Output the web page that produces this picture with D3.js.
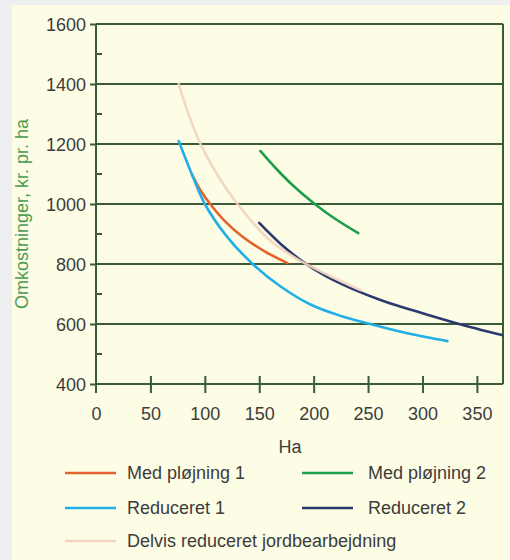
<!DOCTYPE html>
<html>
<head>
<meta charset="utf-8">
<script src="https://cdn.jsdelivr.net/npm/d3@7"></script>
<style>
  html, body { margin: 0; padding: 0; background: #eeeff1; }
  svg { display: block; }
  text { font-family: "Liberation Sans", Arial, sans-serif; }
</style>
</head>
<body>
<script>
// Omkostninger pr. ha som funktion af areal (ha)
const seriesNames = ["Med pløjning 1", "Med pløjning 2", "Reduceret 1", "Reduceret 2", "Delvis reduceret jordbearbejdning"];
const seriesColors = ["#e2632e", "#1f9e4a", "#22aee8", "#2b3a6e", "#f3d3be"];

const medPloejning1 = [[88, 1100], [97, 1040], [106, 995], [120, 937], [135, 890], [155, 842], [176, 803]];
const medPloejning2 = [[151, 1177], [165, 1120], [180, 1065], [201, 1000], [220, 950], [241, 903]];
const reduceret1 = [[76, 1210], [88, 1100], [100, 1000], [120, 893], [144, 800], [170, 724], [197, 665], [225, 627], [252, 600], [285, 570], [323, 543]];
const reduceret2 = [[150, 937], [170, 866], [190, 808], [210, 762], [235, 718], [264, 677], [300, 636], [332, 602], [373, 563]];
const delvisReduceret = [[76, 1400], [85, 1300], [96, 1200], [112, 1095], [130, 1000], [160, 878], [190, 806], [215, 760], [243, 713]];

const xTicks = [0, 50, 100, 150, 200, 250, 300, 350];
const yTicks = [400, 600, 800, 1000, 1200, 1400, 1600];
const yMinorTicks = [500, 700, 900, 1100, 1300, 1500];

const W = 510, H = 560;
const svg = d3.select("body").append("svg").attr("width", W).attr("height", H);

// yellow panel
svg.append("rect").attr("x", 12).attr("y", 5).attr("width", W - 12).attr("height", H - 5).attr("fill", "#fdfde5");

const x = d3.scaleLinear().domain([0, 374]).range([96, 503]);
const y = d3.scaleLinear().domain([400, 1600]).range([384, 24]);

const gridColor = "#3b5a36";
const tickText = "#3c3c3c";
const fmt = d3.format("d");

// horizontal grid lines
svg.append("g").selectAll("line").data(yTicks).join("line")
  .attr("x1", x(0)).attr("x2", x(374))
  .attr("y1", d => y(d)).attr("y2", d => y(d))
  .attr("stroke", gridColor).attr("stroke-width", 2);

// right border
svg.append("line").attr("x1", x(374)).attr("x2", x(374))
  .attr("y1", y(1600)).attr("y2", y(400))
  .attr("stroke", gridColor).attr("stroke-width", 2);

// y axis
const yAxis = d3.axisLeft(y).tickValues(yTicks).tickFormat(fmt).tickSize(6).tickPadding(4);
const gy = svg.append("g").attr("transform", `translate(${x(0)},0)`).call(yAxis);
gy.select(".domain").remove();
gy.selectAll(".tick line").attr("stroke", gridColor).attr("stroke-width", 2);
gy.selectAll(".tick text").attr("fill", tickText).style("font-size", "18px").attr("dy", "0.34em");
svg.append("line").attr("x1", x(0)).attr("x2", x(0)).attr("y1", y(1600)).attr("y2", y(400) + 9)
  .attr("stroke", gridColor).attr("stroke-width", 2);
svg.append("g").selectAll("line").data(yMinorTicks).join("line")
  .attr("x1", x(0)).attr("x2", x(0) + 6)
  .attr("y1", d => y(d)).attr("y2", d => y(d))
  .attr("stroke", gridColor).attr("stroke-width", 2);

// x axis
const xAxis = d3.axisBottom(x).tickValues(xTicks).tickFormat(fmt).tickSize(9).tickPadding(14);
const gx = svg.append("g").attr("transform", `translate(0,${y(400)})`).call(xAxis);
gx.select(".domain").remove();
gx.selectAll(".tick line").attr("y1", -8).attr("stroke", gridColor).attr("stroke-width", 2);
gx.selectAll(".tick text").attr("fill", tickText).style("font-size", "18px");
gx.selectAll(".tick").filter(d => d === 0).select("line").remove();

// axis titles
svg.append("text").attr("x", 290).attr("y", 453).attr("text-anchor", "middle")
  .attr("fill", tickText).style("font-size", "18px").text("Ha");
svg.append("text").attr("transform", "translate(28,214) rotate(-90)").attr("text-anchor", "middle")
  .attr("fill", "#4e9a52").style("font-size", "18px").text("Omkostninger, kr. pr. ha");

// curves
const line = d3.line().x(d => x(d[0])).y(d => y(d[1])).curve(d3.curveCatmullRom.alpha(0.5));
const allSeries = [medPloejning1, medPloejning2, reduceret1, reduceret2, delvisReduceret];
const drawOrder = [0, 2, 1, 3, 4];
svg.append("g").selectAll("path").data(drawOrder).join("path")
  .attr("d", i => line(allSeries[i]))
  .attr("fill", "none")
  .attr("stroke", i => seriesColors[i])
  .attr("stroke-width", 2.6)
  .attr("stroke-opacity", i => i === 4 ? 0.9 : 1)
  .attr("stroke-linecap", "round");

// legend
const legendPos = [[65, 473], [302, 473], [65, 508], [302, 508], [65, 541]];
const lg = svg.append("g").selectAll("g").data(seriesNames).join("g")
  .attr("transform", (d, i) => `translate(${legendPos[i][0]},${legendPos[i][1]})`);
lg.append("line").attr("x1", 0).attr("x2", 51).attr("y1", 0).attr("y2", 0)
  .attr("stroke", (d, i) => seriesColors[i]).attr("stroke-width", 2.6);
lg.append("text").attr("x", (d, i) => i % 2 === 1 ? 66 : 62).attr("y", 0).attr("dy", "0.35em")
  .attr("fill", tickText).style("font-size", "18px").text(d => d);
</script>
</body>
</html>
